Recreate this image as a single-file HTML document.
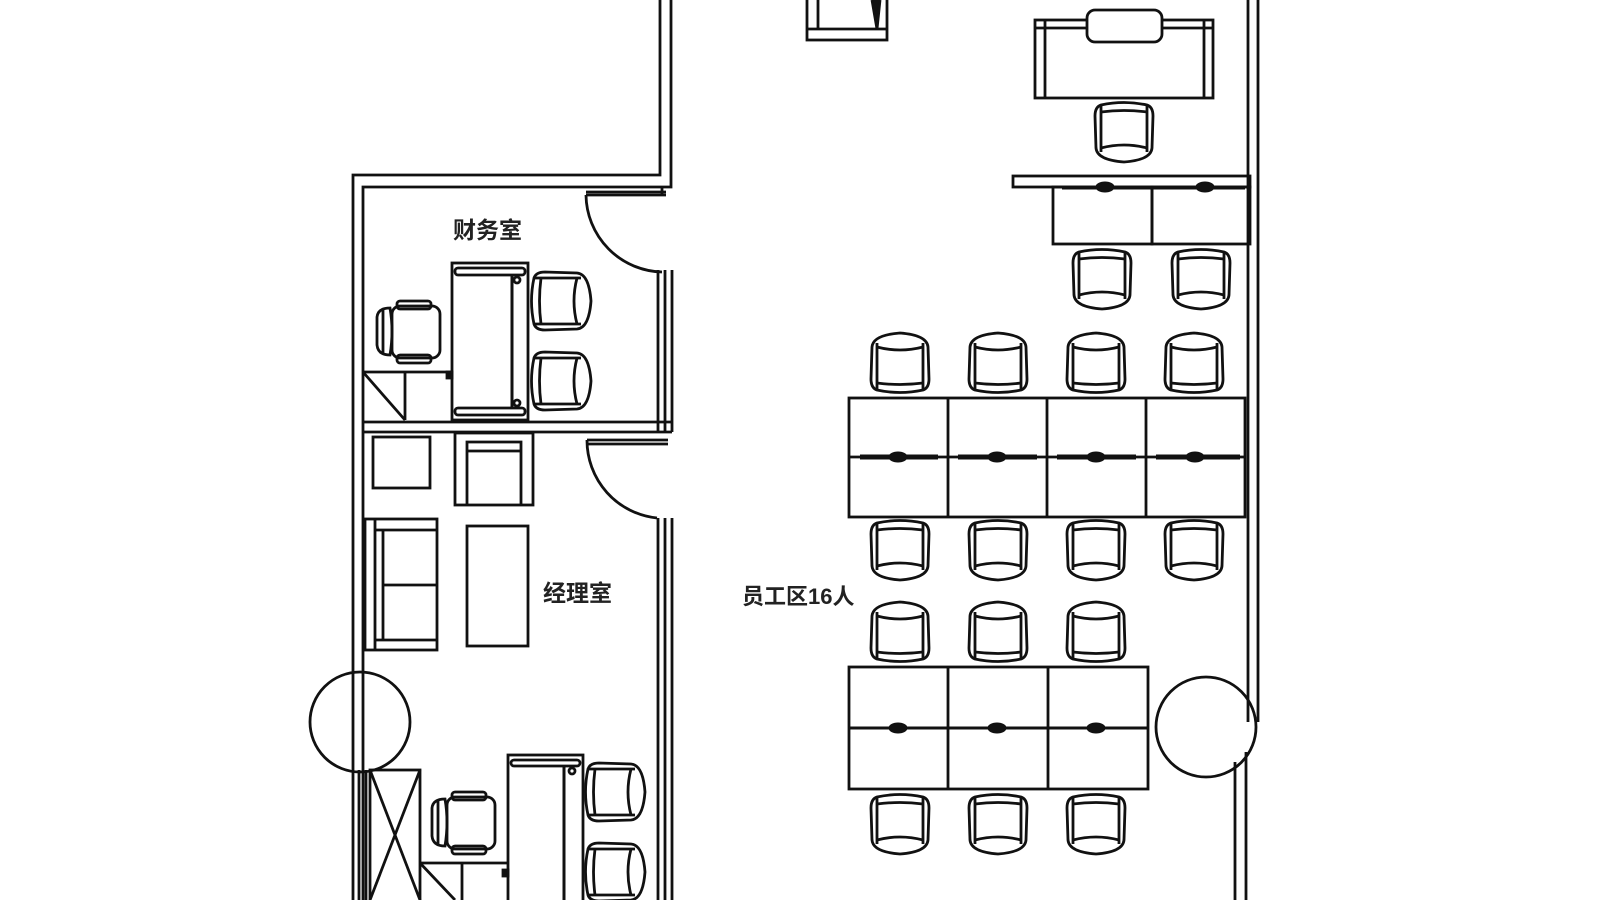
<!DOCTYPE html>
<html><head><meta charset="utf-8"><style>
html,body{margin:0;padding:0;background:#fff;}
svg{display:block;}
text{font-family:"Liberation Sans","Noto Sans CJK SC",sans-serif;font-weight:bold;fill:#222;}
</style></head><body>
<svg width="1600" height="900" viewBox="0 0 1600 900" xmlns="http://www.w3.org/2000/svg">
<defs>
<g id="ch" fill="none" stroke="#111" stroke-width="2.8">
<path d="M-23,-27 Q0,-32 23,-27 Q29,-25 29,-16 L28,16 Q27,28 0,30 Q-27,28 -28,16 L-29,-16 Q-29,-25 -23,-27 Z"/>
<path d="M-23,-26 L-23,20 M23,-26 L23,20"/>
<path d="M-23,-20 Q0,-23 23,-20"/>
<path d="M-23,16 Q0,10 23,16"/>
</g>
<g id="oc" fill="none" stroke="#111" stroke-width="2.8">
<rect x="-16" y="-25" width="48" height="52" rx="8"/>
<rect x="-11" y="-30" width="34" height="8" rx="3"/>
<rect x="-11" y="24" width="34" height="8" rx="3"/>
<path d="M-18,-23 Q-30,-23 -31,-14 L-31,14 Q-30,24 -18,24 Q-14,0 -18,-23 Z"/>
<path d="M-25,-22 L-25,22"/>
</g>
<g id="wk" fill="#111" stroke="#111">
<ellipse cx="0" cy="0" rx="9" ry="5"/>
</g>
</defs>
<g fill="none" stroke="#111" stroke-width="2.8">
<polyline points="353,900 353,672"/>
<polyline points="363,900 363,672"/>
<polyline points="353,672 353,175 660,175 660,0"/>
<polyline points="363,672 363,187 671,187 671,0"/>
<line x1="662" y1="187" x2="662" y2="196"/>
<line x1="586" y1="195" x2="666" y2="195"/>
<line x1="586" y1="192" x2="666" y2="192"/>
<path d="M586,195 A78,78 0 0 0 662,272"/>
<line x1="658" y1="270" x2="658" y2="432"/>
<line x1="665" y1="270" x2="665" y2="432"/>
<line x1="672" y1="270" x2="672" y2="432"/>
<line x1="363" y1="422" x2="672" y2="422"/>
<line x1="363" y1="432" x2="672" y2="432"/>
<line x1="587" y1="440" x2="668" y2="440"/>
<line x1="587" y1="444" x2="668" y2="444"/>
<path d="M587,440 A78,78 0 0 0 657,518"/>
<line x1="658" y1="518" x2="658" y2="900"/>
<line x1="665" y1="518" x2="665" y2="900"/>
<line x1="672" y1="518" x2="672" y2="900"/>
<circle cx="360" cy="722" r="50"/>
<line x1="359" y1="770" x2="359" y2="900"/>
<line x1="366" y1="770" x2="366" y2="900"/>
<rect x="370" y="770" width="50" height="135"/>
<line x1="370" y1="770" x2="420" y2="900"/>
<line x1="420" y1="770" x2="370" y2="900"/>
<rect x="452" y="263" width="76" height="157"/>
<rect x="455" y="268" width="70" height="7" rx="3"/>
<rect x="455" y="408" width="70" height="7" rx="3"/>
<line x1="512" y1="275" x2="512" y2="408" stroke-width="3"/>
<circle cx="517" cy="280" r="3"/>
<circle cx="517" cy="403" r="3"/>
<rect x="447" y="372" width="5" height="6" fill="#111"/>
<polyline points="363,372 452,372"/>
<line x1="405" y1="372" x2="405" y2="420"/>
<line x1="363" y1="372" x2="405" y2="420"/>
<rect x="373" y="437" width="57" height="51"/>
<rect x="455" y="433" width="78" height="72"/>
<path d="M467,505 L467,442 L521,442 L521,505"/>
<line x1="467" y1="451" x2="521" y2="451"/>
<rect x="365" y="519" width="72" height="131"/>
<line x1="375" y1="519" x2="375" y2="650"/>
<line x1="383" y1="530" x2="383" y2="640"/>
<line x1="375" y1="530" x2="437" y2="530"/>
<line x1="383" y1="585" x2="437" y2="585"/>
<line x1="375" y1="640" x2="437" y2="640"/>
<rect x="467" y="526" width="61" height="120"/>
<rect x="508" y="755" width="75" height="150"/>
<rect x="511" y="760" width="69" height="6" rx="3"/>
<line x1="564" y1="766" x2="564" y2="900" stroke-width="3"/>
<circle cx="572" cy="771" r="3"/>
<rect x="503" y="870" width="5" height="6" fill="#111"/>
<line x1="420" y1="863" x2="508" y2="863"/>
<line x1="462" y1="863" x2="462" y2="900"/>
<line x1="420" y1="863" x2="455" y2="900"/>
<line x1="1248" y1="0" x2="1248" y2="722"/>
<line x1="1258" y1="0" x2="1258" y2="722"/>
<circle cx="1206" cy="727" r="50"/>
<line x1="1235" y1="762" x2="1235" y2="900"/>
<line x1="1246" y1="752" x2="1246" y2="900"/>
<rect x="807" y="-3" width="80" height="43"/>
<line x1="807" y1="29" x2="887" y2="29"/>
<line x1="818" y1="0" x2="818" y2="29"/>
<path d="M872,0 L877,29 L880,0" fill="#111"/>
<rect x="1035" y="20" width="178" height="78"/>
<line x1="1045" y1="20" x2="1045" y2="98"/>
<line x1="1204" y1="20" x2="1204" y2="98"/>
<line x1="1035" y1="28" x2="1213" y2="28"/>
<rect x="1087" y="10" width="75" height="32" rx="8" fill="#fff"/>
<rect x="1013" y="176" width="237" height="11"/>
<rect x="1053" y="187" width="99" height="57"/>
<rect x="1152" y="187" width="98" height="57"/>
<line x1="1062" y1="188" x2="1245" y2="188" stroke-width="3"/>
<rect x="849" y="398" width="396" height="119"/>
<line x1="948" y1="398" x2="948" y2="517"/>
<line x1="1047" y1="398" x2="1047" y2="517"/>
<line x1="1146" y1="398" x2="1146" y2="517"/>
<line x1="849" y1="457" x2="1245" y2="457"/>
<line x1="860" y1="457" x2="938" y2="457" stroke-width="5"/>
<line x1="958" y1="457" x2="1037" y2="457" stroke-width="5"/>
<line x1="1057" y1="457" x2="1136" y2="457" stroke-width="5"/>
<line x1="1156" y1="457" x2="1240" y2="457" stroke-width="5"/>
<rect x="849" y="667" width="299" height="122"/>
<line x1="948" y1="667" x2="948" y2="789"/>
<line x1="1048" y1="667" x2="1048" y2="789"/>
<line x1="849" y1="728" x2="1148" y2="728" stroke-width="3"/>
</g>
<use href="#wk" x="1105" y="187"/><use href="#wk" x="1205" y="187"/>
<use href="#wk" x="898" y="457"/><use href="#wk" x="997" y="457"/><use href="#wk" x="1096" y="457"/><use href="#wk" x="1195" y="457"/>
<use href="#wk" x="898" y="728"/><use href="#wk" x="997" y="728"/><use href="#wk" x="1096" y="728"/>
<use href="#ch" transform="translate(1124,132)"/>
<use href="#ch" transform="translate(1102,279)"/>
<use href="#ch" transform="translate(1201,279)"/>
<use href="#ch" transform="translate(900,363) rotate(180)"/>
<use href="#ch" transform="translate(998,363) rotate(180)"/>
<use href="#ch" transform="translate(1096,363) rotate(180)"/>
<use href="#ch" transform="translate(1194,363) rotate(180)"/>
<use href="#ch" transform="translate(900,550)"/>
<use href="#ch" transform="translate(998,550)"/>
<use href="#ch" transform="translate(1096,550)"/>
<use href="#ch" transform="translate(1194,550)"/>
<use href="#ch" transform="translate(900,632) rotate(180)"/>
<use href="#ch" transform="translate(998,632) rotate(180)"/>
<use href="#ch" transform="translate(1096,632) rotate(180)"/>
<use href="#ch" transform="translate(900,824)"/>
<use href="#ch" transform="translate(998,824)"/>
<use href="#ch" transform="translate(1096,824)"/>
<use href="#ch" transform="translate(561,301) rotate(-90)"/>
<use href="#ch" transform="translate(561,381) rotate(-90)"/>
<use href="#ch" transform="translate(615,792) rotate(-90)"/>
<use href="#ch" transform="translate(615,872) rotate(-90)"/>
<use href="#oc" transform="translate(408,331)"/>
<use href="#oc" transform="translate(463,822)"/>
<text x="453" y="238" font-size="23">财务室</text>
<text x="543" y="601" font-size="23">经理室</text>
<text x="742" y="604" font-size="22">员工区16人</text>
</svg>
</body></html>
